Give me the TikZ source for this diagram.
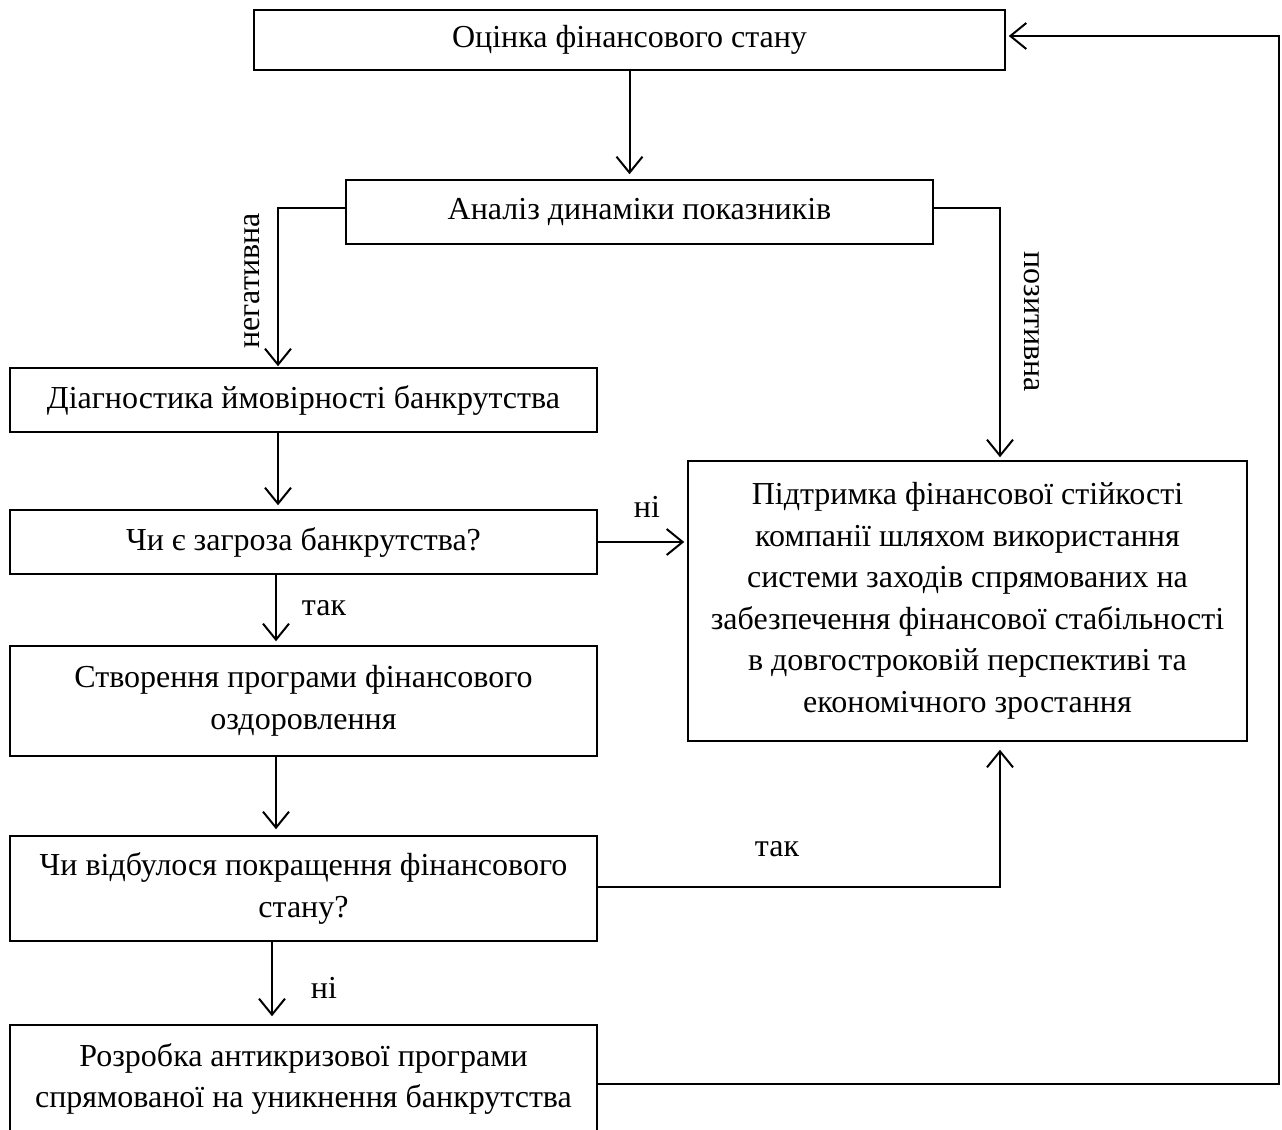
\documentclass[tikz,border=0pt]{standalone}
\usepackage{fontspec}
\setmainfont{Liberation Serif}
\usepackage{tikz}
\usetikzlibrary{arrows.meta}

\begin{document}
\begin{tikzpicture}[x=0.5pt, y=-0.5pt, every node/.style={font=\fontsize{16}{20.75}\selectfont}, >={Straight Barb[length=8pt,width=13pt]},
	blok/.style={draw, line width=0.75pt, rectangle, align=center, inner sep=0pt},
	strilka/.style={->, line width=1pt}]
	\useasboundingbox (0,0) rectangle (1282,1130);
	\node[blok, minimum width=375.5pt, minimum height=30pt] (ocinka) at (629.5,40) {Оцінка фінансового стану};
	\node[blok, minimum width=293.5pt, minimum height=32pt] (analiz) at (639.5,212) {Аналіз динаміки показників};
	\node[blok, minimum width=293.5pt, minimum height=32pt] (diagn) at (303.5,400) {Діагностика ймовірності банкрутства};
	\node[blok, minimum width=293.5pt, minimum height=32pt] (zahroza) at (303.5,542) {Чи є загроза банкрутства?};
	\node[blok, minimum width=279.5pt, minimum height=140pt] (pidtr) at (967.5,601) {Підтримка фінансової стійкості\\ компанії шляхом використання\\ системи заходів спрямованих на\\ забезпечення фінансової стабільності\\ в довгостроковій перспективі та\\ економічного зростання};
	\node[blok, minimum width=293.5pt, minimum height=55pt] (stvor) at (303.5,701) {Створення програми фінансового\\ оздоровлення};
	\node[blok, minimum width=293.5pt, minimum height=52.5pt] (pokr) at (303.5,888.5) {Чи відбулося покращення фінансового\\ стану?};
	\node[blok, minimum width=293.5pt, minimum height=54pt] (rozr) at (303.5,1079) {Розробка антикризової програми\\ спрямованої на уникнення банкрутства};
	\draw[strilka, shorten >=2.5pt] (ocinka.south) -- (ocinka.south |- analiz.north);
	\draw[strilka, shorten >=0.5pt] ([yshift=2pt]analiz.west) -| ([xshift=-12.75pt]diagn.north);
	\draw[strilka, shorten >=1.5pt] ([yshift=2pt]analiz.east) -| ([xshift=16.25pt]pidtr.north);
	\draw[strilka, shorten >=2pt] ([xshift=-12.75pt]diagn.south) -- ([xshift=-12.75pt]zahroza.north);
	\draw[strilka, shorten >=1.5pt] (zahroza.east) -- (zahroza.east -| pidtr.west);
	\draw[strilka, shorten >=2pt] ([xshift=-13.75pt]zahroza.south) -- ([xshift=-13.75pt]stvor.north);
	\draw[strilka, shorten >=3pt] ([xshift=-13.75pt]stvor.south) -- ([xshift=-13.75pt]pokr.north);
	\draw[strilka, shorten >=4pt] ([yshift=1pt]pokr.east) -| ([xshift=16.25pt]pidtr.south);
	\draw[strilka, shorten >=4pt] ([xshift=-15.75pt]pokr.south) -- ([xshift=-15.75pt]rozr.north);
	\draw[strilka, shorten >=1.5pt] ([yshift=-2.5pt]rozr.east) -- ++(681,0) |- ([yshift=2pt]ocinka.east);
	\node[rotate=90] (lneg) at (252,281) {негативна};
	\node[rotate=-90] (lpoz) at (1032,322) {позитивна};
	\node (lni1) at (647,507) {ні};
	\node (ltak1) at (324,608) {так};
	\node (ltak2) at (777,849) {так};
	\node (lni2) at (324,988) {ні};
\end{tikzpicture}
\end{document}
